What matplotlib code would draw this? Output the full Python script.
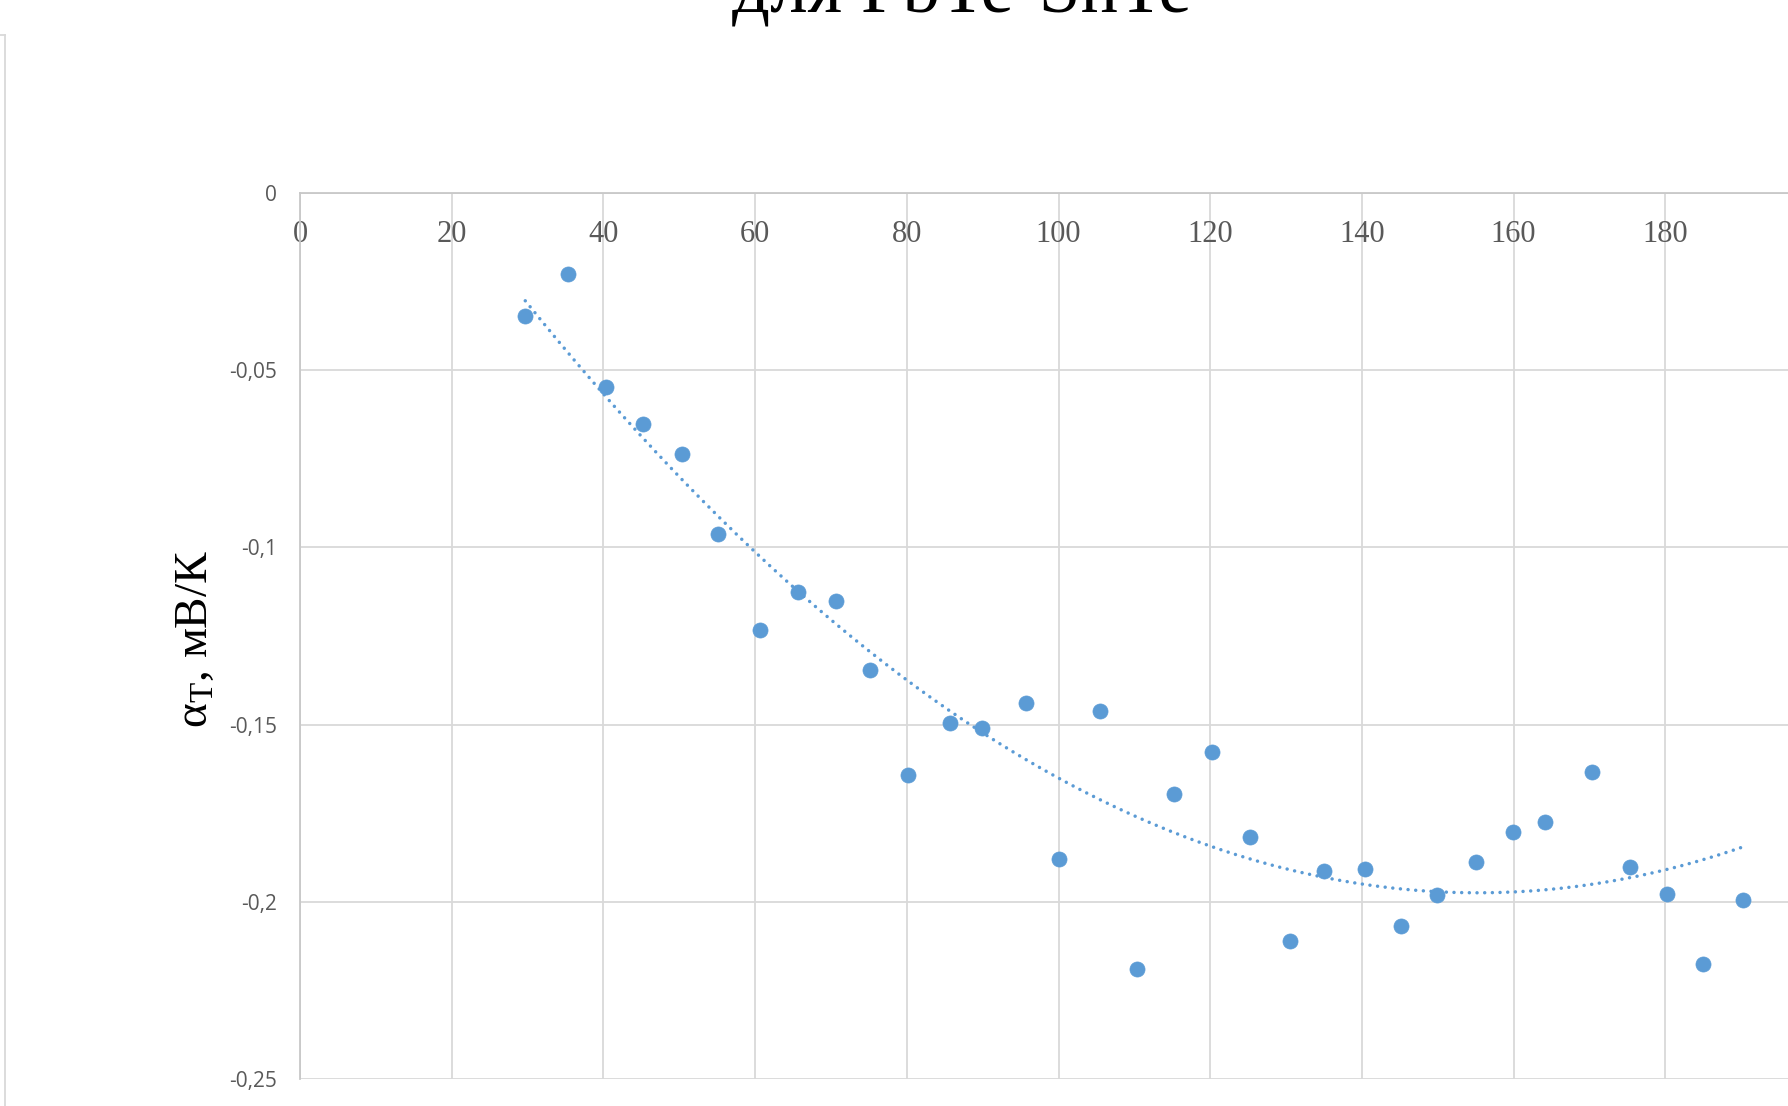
import numpy as np
import matplotlib
matplotlib.use("Agg")
import matplotlib.pyplot as plt
from matplotlib.lines import Line2D

# ---- data ----
temperature = [29.7, 35.3, 40.4, 45.2, 50.4, 55.1, 60.6, 65.6, 70.7, 75.2,
               80.1, 85.7, 89.9, 95.7, 100.1, 105.5, 110.3, 115.2, 120.3, 125.3,
               130.5, 135.0, 140.4, 145.2, 149.9, 155.1, 159.9, 164.1, 170.4, 175.4,
               180.2, 185.0, 190.2]
alpha_t = [-0.0347, -0.0228, -0.0547, -0.0653, -0.0737, -0.0962, -0.1232, -0.1126, -0.1152, -0.1345,
           -0.1641, -0.1496, -0.1509, -0.1438, -0.1879, -0.1461, -0.2191, -0.1696, -0.1577, -0.1818,
           -0.2111, -0.1914, -0.1908, -0.2069, -0.1982, -0.1889, -0.1802, -0.1776, -0.1634, -0.1902,
           -0.1979, -0.2175, -0.1995]
x_ticks = [0, 20, 40, 60, 80, 100, 120, 140, 160, 180]
x_tick_labels = ["0", "20", "40", "60", "80", "100", "120", "140", "160", "180"]
y_ticks = [0, -0.05, -0.1, -0.15, -0.2, -0.25]
y_tick_labels = ["0", "-0,05", "-0,1", "-0,15", "-0,2", "-0,25"]
title_text = "для PbTe-SnTe"
y_label = r"$\mathrm{α}_{\mathrm{T}}$, мВ/К"

plt.rcParams["mathtext.fontset"] = "custom"
plt.rcParams["mathtext.rm"] = "Liberation Serif"
plt.rcParams["mathtext.it"] = "Liberation Serif"

W, H = 1788, 1106
fig = plt.figure(figsize=(W / 100, H / 100), dpi=100)
fig.patch.set_facecolor("white")

ax_left = 300 / W
ax_top = 1 - 193 / H
ax_bottom = 1 - 1079 / H
ax_width = (7.585 * 200) / W
ax = fig.add_axes([ax_left, ax_bottom, ax_width, ax_top - ax_bottom])

blue = "#5b9bd5"
grid_c = "#d9d9d9"
axis_c = "#c8c8c8"
label_c = "#595959"

ax.set_xlim(0, 200)
ax.set_ylim(-0.25, 0)

ax.set_xticks(x_ticks)
ax.set_xticklabels(x_tick_labels, family="Liberation Serif", fontsize=22, color=label_c)
ax.set_yticks(y_ticks)
ax.set_yticklabels(y_tick_labels, family="Open Sans", fontsize=15, color=label_c)

ax.xaxis.set_ticks_position("top")
ax.tick_params(axis="x", top=True, labeltop=True, bottom=False, labelbottom=False,
               length=0, pad=-40)
ax.tick_params(axis="y", length=0, pad=16.5)

ax.grid(True, color=grid_c, linewidth=1.3, zorder=0)
ax.set_axisbelow(True)
for side in ["right", "bottom"]:
    ax.spines[side].set_visible(False)
for side in ["left", "top"]:
    ax.spines[side].set_color(axis_c)
    ax.spines[side].set_linewidth(1.3)

# scatter
ax.scatter(temperature, alpha_t, s=118, color=blue, edgecolors=blue, linewidths=0.5,
           zorder=3, clip_on=False)

# polynomial (order 2) trendline, as in the original spreadsheet chart
coef = np.polyfit(temperature, alpha_t, 2)
xt = np.linspace(min(temperature), max(temperature), 300)
ax.plot(xt, np.polyval(coef, xt), color=blue, linewidth=2.5,
        linestyle=(0, (0.01, 2.2)), dash_capstyle="round", zorder=2)

# title (cut at top as in the reference)
fig.text(962 / W, 1 - 12 / H, title_text, family="Liberation Serif", fontsize=54,
         ha="center", va="baseline", color="black")

# y label
fig.text(196 / W, 1 - 639 / H, y_label, family="Liberation Serif", fontsize=34,
         rotation=90, ha="center", va="center", color="black")

# chart-area border fragment at left
fig.add_artist(Line2D([5 / W, 5 / W], [1 - 35 / H, 0], transform=fig.transFigure,
                      color=grid_c, linewidth=1.3))
fig.add_artist(Line2D([0, 5 / W], [1 - 35 / H, 1 - 35 / H], transform=fig.transFigure,
                      color=grid_c, linewidth=1.3))

fig.savefig("out.png", dpi=100)
